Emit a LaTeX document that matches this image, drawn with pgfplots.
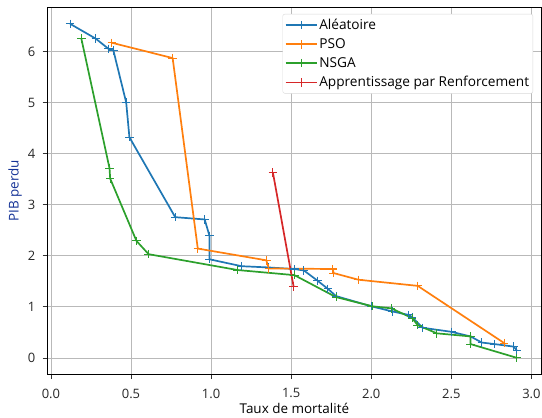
\documentclass[border=0pt]{standalone}
\usepackage{fontspec}
\setmainfont{Open Sans}
\usepackage{pgfplots}
\pgfplotsset{compat=1.18}
\usetikzlibrary{calc}
\definecolor{tabblue}{HTML}{1F77B4}
\definecolor{taborange}{HTML}{FF7F0E}
\definecolor{tabgreen}{HTML}{2CA02C}
\definecolor{tabred}{HTML}{D62728}
\definecolor{ylab}{RGB}{20,50,150}
\pgfplotsset{
  serie/.style={color=#1, line width=1.7bp, mark=+, mark size=4.2bp,
    mark options={color=#1, line width=1bp, solid}},
}
\begin{document}
\begin{tikzpicture}
\begin{axis}[
  name=ax,
  scale only axis,
  width=493bp, height=367bp,
  xmin=-0.02, xmax=3.06,
  ymin=-0.32, ymax=6.87,
  xtick={0,0.5,1,1.5,2,2.5,3},
  xticklabels={0.0,0.5,1.0,1.5,2.0,2.5,3.0},
  ytick={0,1,2,3,4,5,6},
  /pgf/number format/assume math mode=true,
  tick label style={font=\fontsize{13}{15}\selectfont, text=black!85},
  xticklabel style={yshift=-6bp},
  yticklabel style={xshift=-4bp},
  label style={font=\fontsize{13.5}{15}\selectfont},
  xlabel={Taux de mortalité},
  ylabel={\textcolor{ylab}{PIB perdu}},
  xlabel style={yshift=2bp},
  ylabel style={yshift=-1bp},
  tick align=outside,
  major tick length=5bp,
  tick style={black!80, line width=0.6pt},
  xtick pos=bottom, ytick pos=left,
  grid=major,
  grid style={gray!55, line width=0.7pt},
  axis line style={black, line width=0.8pt},
  legend style={at={(0.984,0.981)}, anchor=north east,
    font=\fontsize{13.7}{15}\selectfont,
    draw=gray!30, rounded corners=2bp, fill=white,
    row sep=3.5bp, inner xsep=2bp, inner ysep=3bp,
    nodes={inner xsep=1.8bp}},
  legend cell align=left,
  legend image code/.code={
    \draw[#1] plot[mark=none] coordinates {(0bp,0bp) (31bp,0bp)};
    \draw[#1] plot[only marks] coordinates {(15.5bp,0bp)};
  },
]
\addplot[serie=tabblue] coordinates {
(0.12,6.54) (0.28,6.25) (0.36,6.05) (0.39,6.02) (0.47,5.00) (0.49,4.32)
(0.776,2.755) (0.96,2.71) (0.99,2.39) (0.99,1.93) (1.19,1.795) (1.36,1.77)
(1.52,1.74) (1.58,1.71) (1.665,1.51) (1.73,1.35) (1.78,1.21) (2.0,1.01)
(2.13,0.91) (2.235,0.84) (2.255,0.80) (2.32,0.59) (2.50,0.51) (2.62,0.42)
(2.69,0.30) (2.77,0.27) (2.89,0.22) (2.91,0.14)
};
\addlegendentry{Aléatoire}
\addplot[serie=taborange] coordinates {
(0.38,6.17) (0.76,5.87) (0.917,2.14) (1.345,1.91) (1.36,1.75) (1.76,1.74)
(1.765,1.66) (1.92,1.53) (2.29,1.41) (2.83,0.29)
};
\addlegendentry{PSO}
\addplot[serie=tabgreen] coordinates {
(0.19,6.25) (0.366,3.71) (0.37,3.51) (0.534,2.29) (0.61,2.03) (1.165,1.72)
(1.52,1.62) (1.78,1.19) (2.007,1.01) (2.125,0.97) (2.255,0.78) (2.29,0.64)
(2.41,0.48) (2.62,0.42) (2.62,0.27) (2.91,0.0)
};
\addlegendentry{NSGA}
\addplot[serie=tabred] coordinates {
(1.386,3.63) (1.515,1.40)
};
\addlegendentry{Apprentissage par Renforcement}
\end{axis}
\pgfresetboundingbox
\path ($(ax.south west)+(-47.7bp,-43bp)$) rectangle ($(ax.north east)+(1bp,7bp)$);
\end{tikzpicture}
\end{document}
